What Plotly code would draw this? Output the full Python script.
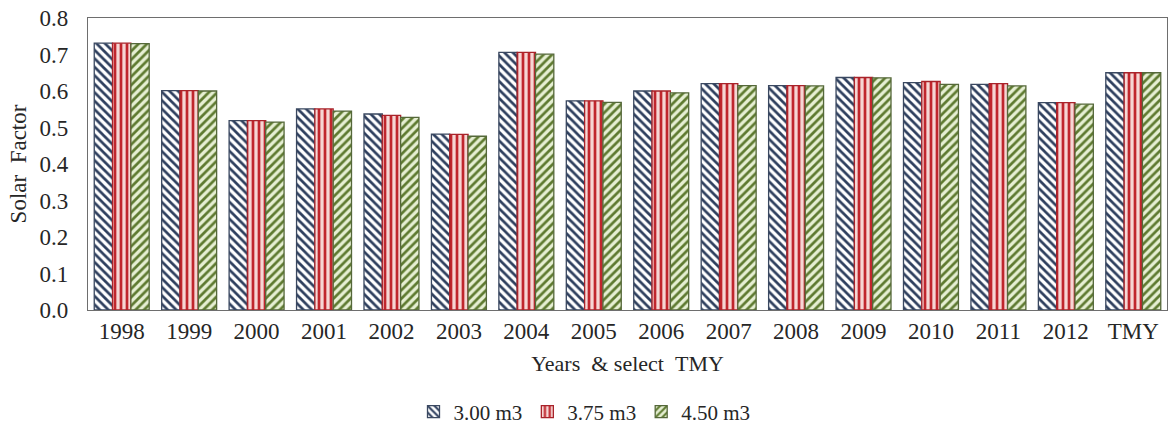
import plotly.graph_objects as go

# Solar factor per year and for the typical meteorological year (TMY),
# for three storage-tank volumes.
years = ["1998", "1999", "2000", "2001", "2002", "2003", "2004", "2005",
         "2006", "2007", "2008", "2009", "2010", "2011", "2012", "TMY"]
sf_300 = [0.731, 0.601, 0.519, 0.551, 0.537, 0.482, 0.706, 0.573,
          0.600, 0.620, 0.615, 0.637, 0.623, 0.618, 0.568, 0.650]
sf_375 = [0.731, 0.601, 0.519, 0.551, 0.533, 0.481, 0.706, 0.573,
          0.600, 0.620, 0.615, 0.637, 0.626, 0.620, 0.568, 0.650]
sf_450 = [0.730, 0.600, 0.515, 0.545, 0.528, 0.476, 0.701, 0.569,
          0.595, 0.615, 0.614, 0.636, 0.618, 0.614, 0.564, 0.650]
series_names = ["3.00 m3", "3.75 m3", "4.50 m3"]
y_ticks = [0.0, 0.1, 0.2, 0.3, 0.4, 0.5, 0.6, 0.7, 0.8]

styles = [
    dict(shape="\\", fg="#2E3F5E", bg="#FFFFFF", line="#3A4860"),
    dict(shape="|", fg="#C0262D", bg="#F6D6D4", line="#A8232A"),
    dict(shape="/", fg="#5E7A30", bg="#E6EFD3", line="#55683A"),
]

FONT = "Liberation Serif"
NB = "\u00a0"

fig = go.Figure()
for name, vals, st in zip(series_names, [sf_300, sf_375, sf_450], styles):
    fig.add_trace(go.Bar(
        x=years, y=vals, name=name,
        marker=dict(
            color=st["bg"],
            line=dict(color=st["line"], width=1.3),
            pattern=dict(shape=st["shape"], fgcolor=st["fg"], bgcolor=st["bg"],
                         size=6, solidity=0.45, fillmode="replace"),
        ),
    ))

fig.update_layout(
    width=1169, height=443,
    margin=dict(l=88, r=2, t=18, b=133),
    barmode="group", bargap=0.185, bargroupgap=0,
    plot_bgcolor="white", paper_bgcolor="white",
    font=dict(family=FONT, size=21, color="#262626"),
    showlegend=True,
    legend=dict(orientation="h", xref="container", yref="container",
                x=0.5, xanchor="center", y=0.07, yanchor="middle",
                font=dict(family=FONT, size=21, color="#262626"),
                itemwidth=30, tracegroupgap=0),
    xaxis=dict(
        showline=True, mirror=True, linecolor="#6E6E6E", linewidth=1.3,
        ticks="", showgrid=False,
        tickfont=dict(family=FONT, size=23),
        title=dict(text=f"Years{NB}{NB}&amp; select{NB}{NB}TMY", standoff=12,
                   font=dict(family=FONT, size=22)),
    ),
    yaxis=dict(
        range=[0, 0.8], tickvals=y_ticks, tickformat=".1f",
        showline=True, mirror=True, linecolor="#6E6E6E", linewidth=1.3,
        ticks="", showgrid=False, zeroline=False, ticklabelstandoff=14,
        tickfont=dict(family=FONT, size=23),
        title=dict(text=f"Solar{NB}{NB}Factor", standoff=6,
                   font=dict(family=FONT, size=23)),
    ),
)

fig.write_html("out.html")
